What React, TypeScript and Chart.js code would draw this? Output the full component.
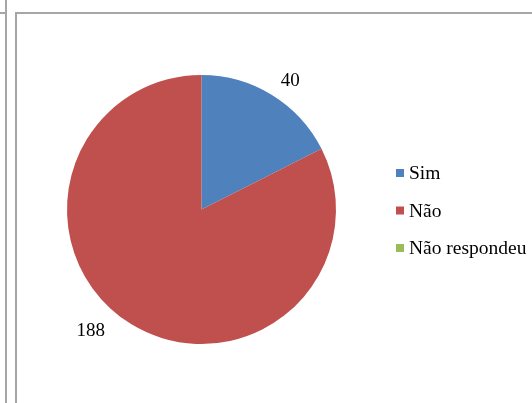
import React, { useEffect, useRef } from "react";
import { Chart, registerables } from "chart.js";

Chart.register(...registerables);

const categories = ["Sim", "Não", "Não respondeu"];
const values = [40, 188, 0];
const colors = ["#4F81BD", "#C0504D", "#9BBB59"];

const LABEL_FONT = "19px 'Liberation Serif', 'Times New Roman', serif";
const LEGEND_FONT = "19.5px 'Liberation Serif', 'Times New Roman', serif";

const labelPlugin = {
  id: "outerLabels",
  afterDatasetsDraw(chart: any, _args: any, opts: any) {
    const ctx = chart.ctx;
    const meta = chart.getDatasetMeta(0);
    const ds = chart.data.datasets[0];
    ctx.save();
    ctx.font = LABEL_FONT;
    ctx.fillStyle = "#000";
    ctx.textAlign = "center";
    ctx.textBaseline = "middle";
    meta.data.forEach((arc: any, i: number) => {
      const v = ds.data[i];
      if (!v) return;
      const { x, y, startAngle, endAngle, outerRadius } = arc.getProps(
        ["x", "y", "startAngle", "endAngle", "outerRadius"],
        true
      );
      const shift = ((opts.angleShift[i] || 0) * Math.PI) / 180;
      const mid = (startAngle + endAngle) / 2 + shift;
      const r = outerRadius + (opts.extra[i] || 20);
      ctx.fillText(String(v), x + Math.cos(mid) * r, y + Math.sin(mid) * r);
    });
    ctx.restore();
  },
};

const legendPlugin = {
  id: "sideLegend",
  afterDraw(chart: any, _args: any, opts: any) {
    const ctx = chart.ctx;
    ctx.save();
    ctx.font = LEGEND_FONT;
    ctx.textBaseline = "middle";
    ctx.textAlign = "left";
    chart.data.labels.forEach((lab: string, i: number) => {
      const cy = opts.top + i * opts.step;
      ctx.fillStyle = colors[i];
      ctx.fillRect(opts.x, cy - 4, 8, 8);
      ctx.fillStyle = "#000";
      ctx.fillText(lab, opts.x + 13, cy + 1);
    });
    ctx.restore();
  },
};

export default function App() {
  const ref = useRef<HTMLCanvasElement>(null);
  useEffect(() => {
    const chart = new Chart(ref.current!, {
      type: "pie",
      data: {
        labels: categories,
        datasets: [
          {
            data: values,
            backgroundColor: colors,
            borderWidth: 0,
          },
        ],
      },
      options: {
        animation: false,
        responsive: false,
        devicePixelRatio: 1,
        layout: { padding: { left: 67, top: 75, right: 196, bottom: 59 } },
        plugins: {
          legend: { display: false },
          tooltip: { enabled: false },
          outerLabels: { angleShift: [3, 10.7], extra: [22, 30] },
          sideLegend: { x: 396, top: 173, step: 37.5 },
        } as any,
      },
      plugins: [labelPlugin, legendPlugin],
    });
    return () => chart.destroy();
  }, []);

  const line = "#a6a6a6";
  return (
    <div style={{ position: "absolute", left: 0, top: 0, width: 532, height: 403, background: "#fff", overflow: "hidden" }}>
      <div style={{ position: "absolute", left: 5, top: 0, width: 2, height: 403, background: line }} />
      <div style={{ position: "absolute", left: 0, top: 12, width: 7, height: 2, background: line }} />
      <div style={{ position: "absolute", left: 15, top: 12, width: 2, height: 391, background: line }} />
      <div style={{ position: "absolute", left: 15, top: 12, width: 517, height: 2, background: line }} />
      <canvas ref={ref} width={532} height={403} style={{ position: "absolute", left: 0, top: 0 }} />
    </div>
  );
}
